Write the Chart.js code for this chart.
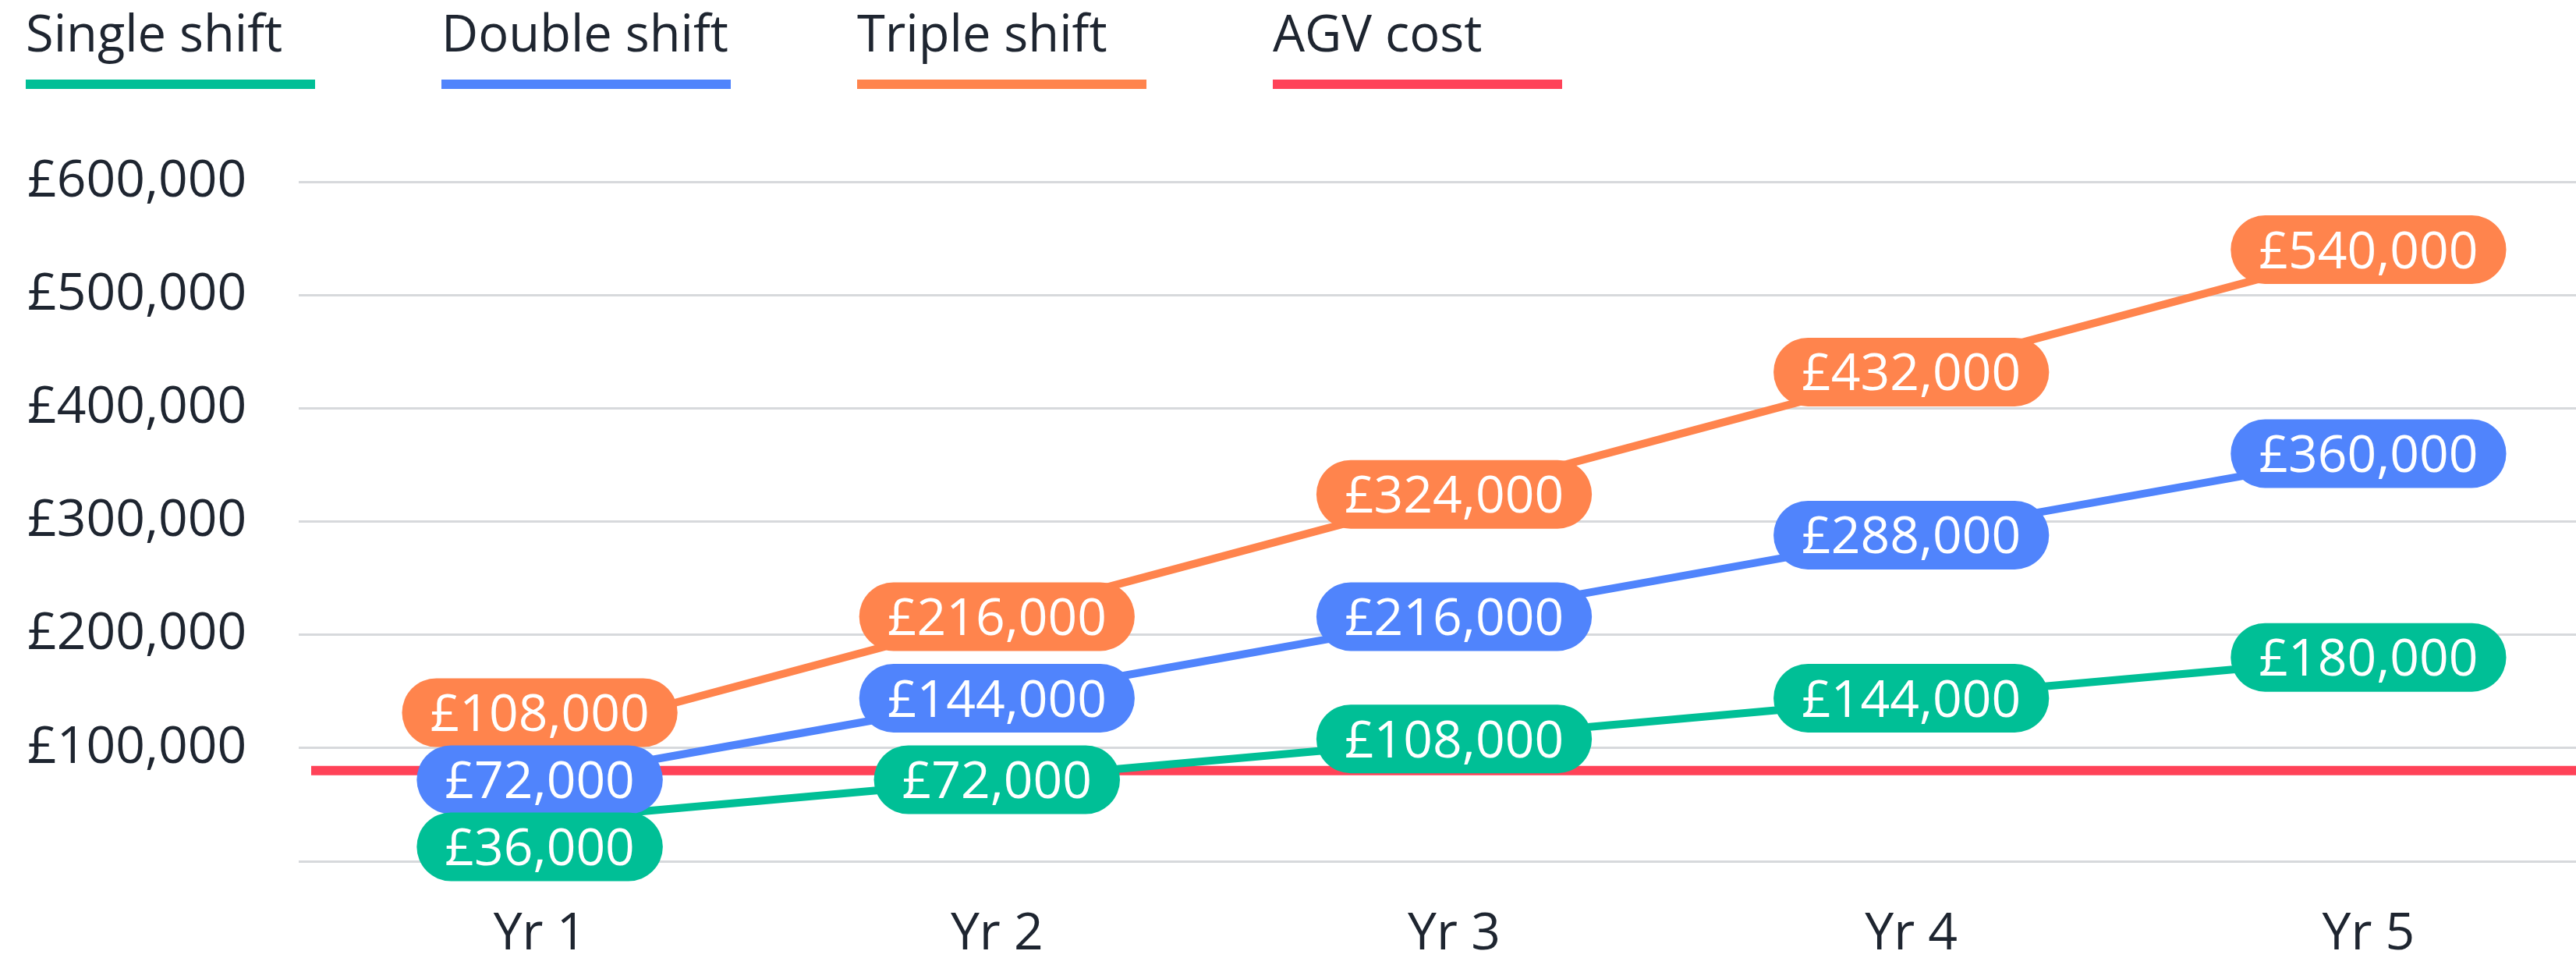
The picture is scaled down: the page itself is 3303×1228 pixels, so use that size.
<!DOCTYPE html>
<html>
<head>
<meta charset="utf-8">
<script src="https://cdn.jsdelivr.net/npm/chart.js@4/dist/chart.umd.min.js"></script>
<style>
  html, body { margin:0; padding:0; background:#ffffff; overflow:hidden; width:3303px; height:1228px; }
  #wrap { position:absolute; left:0; top:0; width:3330px; height:1228px; }
  #legend { position:absolute; left:0; top:0; width:3303px; height:130px; z-index:2; }
  .item { position:absolute; top:0; width:371px; height:120px; }
  .item span { position:absolute; left:0; top:9px; font-family:'Open Sans', sans-serif; font-size:65px; line-height:65px; color:#1e2530; white-space:nowrap; }
  .item i { position:absolute; left:0; top:102px; width:371px; height:12px; display:block; }
</style>
</head>
<body>
<div id="legend"></div>
<div id="wrap"><canvas id="c" width="3330" height="1228"></canvas></div>
<script>
// ---- data ----
const categories   = ['Yr 1', 'Yr 2', 'Yr 3', 'Yr 4', 'Yr 5'];
const singleShift  = [36000, 72000, 108000, 144000, 180000];
const doubleShift  = [72000, 144000, 216000, 288000, 360000];
const tripleShift  = [108000, 216000, 324000, 432000, 540000];
const agvCost      = [80000, 80000, 80000, 80000, 80000];
const seriesNames  = ['Single shift', 'Double shift', 'Triple shift', 'AGV cost'];
const seriesColors = ['#00bf96', '#5084fc', '#ff844d', '#ff4258'];
const yTickValues  = [0, 100000, 200000, 300000, 400000, 500000, 600000];

const FONT = "'Open Sans', sans-serif";
const TEXT = '#1e2530';
const fmt = v => '£' + v.toLocaleString('en-GB');

// ---- legend (HTML) ----
const legendEl = document.getElementById('legend');
seriesNames.forEach((name, i) => {
  const d = document.createElement('div');
  d.className = 'item';
  d.style.left = (33 + i * 533) + 'px';
  const s = document.createElement('span'); s.textContent = name;
  const bar = document.createElement('i'); bar.style.background = seriesColors[i];
  d.appendChild(s); d.appendChild(bar);
  legendEl.appendChild(d);
});

// ---- pill labels plugin ----
const pillLabels = {
  id: 'pillLabels',
  afterDatasetsDraw(chart) {
    const ctx = chart.ctx;
    const fontSize = 66, pillH = 88, minGap = 86, padX = 36;
    ctx.save();
    ctx.font = fontSize + 'px ' + FONT;
    categories.forEach((_, idx) => {
      const items = [];
      chart.data.datasets.forEach((ds, di) => {
        if (!ds.pill) return;
        const el = chart.getDatasetMeta(di).data[idx];
        items.push({ x: el.x, y: el.y, color: ds.borderColor, text: fmt(ds.data[idx]) });
      });
      // relax overlaps symmetrically
      for (let it = 0; it < 200; it++) {
        items.sort((a, b) => a.y - b.y);
        let moved = false;
        for (let k = 0; k < items.length - 1; k++) {
          const a = items[k], b = items[k + 1];
          const d = b.y - a.y;
          if (d < minGap - 0.01) {
            const push = (minGap - d) / 2;
            a.y -= push; b.y += push; moved = true;
          }
        }
        if (!moved) break;
      }
      items.forEach(p => {
        const tw = ctx.measureText(p.text).width;
        const w = tw + padX * 2;
        ctx.beginPath();
        ctx.roundRect(p.x - w / 2, p.y - pillH / 2, w, pillH, pillH / 2);
        ctx.fillStyle = p.color;
        ctx.fill();
        ctx.fillStyle = '#ffffff';
        ctx.textAlign = 'center';
        ctx.textBaseline = 'alphabetic';
        ctx.fillText(p.text, p.x, p.y + fontSize * 0.357);
      });
    });
    ctx.restore();
  }
};

new Chart(document.getElementById('c'), {
  type: 'line',
  data: {
    labels: categories,
    datasets: [
      { label: seriesNames[0], data: singleShift, borderColor: seriesColors[0], backgroundColor: seriesColors[0], pill: true },
      { label: seriesNames[1], data: doubleShift, borderColor: seriesColors[1], backgroundColor: seriesColors[1], pill: true },
      { label: seriesNames[2], data: tripleShift, borderColor: seriesColors[2], backgroundColor: seriesColors[2], pill: true },
      { label: seriesNames[3], data: agvCost, borderColor: seriesColors[3], backgroundColor: seriesColors[3], borderWidth: 12, borderCapStyle: 'butt', xAxisID: 'x2', pill: false }
    ]
  },
  options: {
    responsive: false,
    animation: false,
    devicePixelRatio: 1,
    layout: { padding: { left: 35, top: 233, right: 0, bottom: 0 } },
    plugins: { legend: { display: false }, tooltip: { enabled: false } },
    elements: {
      point: { radius: 0, hoverRadius: 0 },
      line: { borderWidth: 10, tension: 0, borderCapStyle: 'round', borderJoinStyle: 'round' }
    },
    scales: {
      x: {
        type: 'category',
        offset: true,
        grid: { display: false, drawTicks: false },
        border: { display: false },
        ticks: { color: TEXT, font: { family: FONT, size: 66 }, padding: 55, maxRotation: 0 },
        afterFit(s) { s.height = 124; }
      },
      x2: { type: 'category', labels: categories, offset: false, display: false },
      y: {
        min: 0, max: 600000,
        afterBuildTicks(s) { s.ticks = yTickValues.map(v => ({ value: v })); },
        grid: { color: '#d7d9dc', lineWidth: 3, drawTicks: true, tickLength: 16, tickColor: '#d7d9dc' },
        border: { display: false },
        ticks: {
          color: TEXT, font: { family: FONT, size: 66 }, crossAlign: 'far', padding: 0,
          callback: v => v === 0 ? '' : fmt(v)
        },
        afterFit(s) { s.width = 364; }
      }
    }
  },
  plugins: [pillLabels]
});
</script>
</body>
</html>
